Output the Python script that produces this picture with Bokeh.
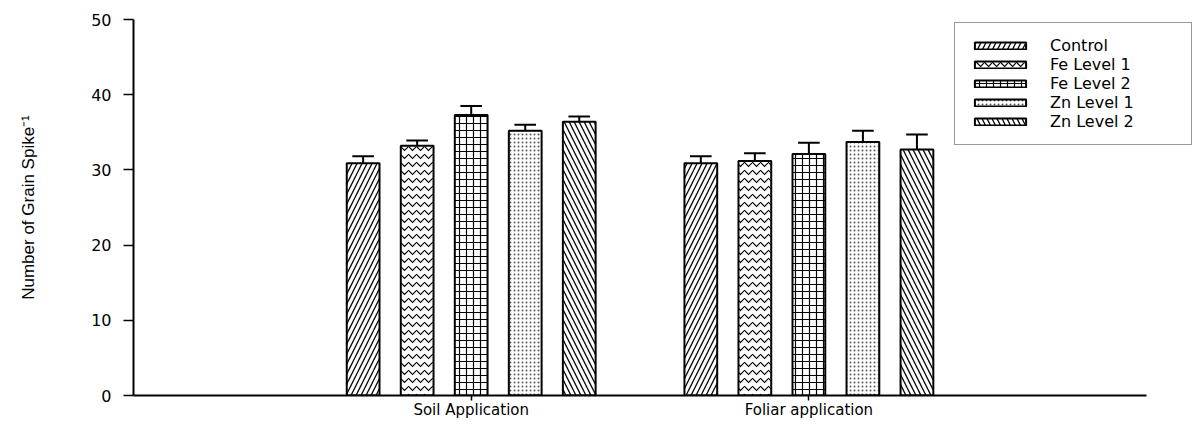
from bokeh.plotting import figure
from bokeh.models import Range1d, FixedTicker, Legend, LegendItem, ColumnDataSource
from bokeh.embed import file_html
from bokeh.resources import INLINE

# ---- data ----
groups = ["Soil Application", "Foliar application"]
treatments = ["Control", "Fe Level 1", "Fe Level 2", "Zn Level 1", "Zn Level 2"]
soil_values = [30.9, 33.2, 37.3, 35.2, 36.4]
soil_errors = [0.9, 0.7, 1.2, 0.8, 0.7]
foliar_values = [30.9, 31.2, 32.1, 33.7, 32.7]
foliar_errors = [0.9, 1.0, 1.5, 1.5, 2.0]
y_ticks = [0, 10, 20, 30, 40, 50]

# ---- styling ----
patterns = ["right_diagonal_line", "horizontal_wave", "cross", "dot", "left_diagonal_line"]
scales = [10, 8, 7, 4, 10]
weights = [1.3, 1.2, 1.2, 1.0, 1.3]
hatch_colors = ["black", "black", "black", "#555555", "black"]
offsets = [-0.32, -0.16, 0.0, 0.16, 0.32]
bar_w = 0.097
cap_half = 0.032
FONT = "DejaVu Sans"

p = figure(width=1192, height=421, x_range=Range1d(0, 3.136), y_range=Range1d(0, 50),
           output_backend="svg", toolbar_location=None,
           min_border_left=133, min_border_right=0, min_border_top=19, min_border_bottom=22)
p.outline_line_color = None
p.xgrid.visible = False
p.ygrid.visible = False
p.background_fill_color = "white"
p.border_fill_color = "white"

items = []
for i, t in enumerate(treatments):
    xs = [g + 1 + offsets[i] for g in range(len(groups))]
    vals = [soil_values[i], foliar_values[i]]
    errs = [soil_errors[i], foliar_errors[i]]
    tops = [v + e for v, e in zip(vals, errs)]
    src = ColumnDataSource(dict(x=xs, top=vals, up=tops,
                                x0=[x - cap_half for x in xs], x1=[x + cap_half for x in xs]))
    # error bars (upper only)
    p.segment(x0="x", y0="top", x1="x", y1="up", source=src, line_color="black", line_width=2)
    p.segment(x0="x0", y0="up", x1="x1", y1="up", source=src, line_color="black", line_width=2)
    r = p.vbar(x="x", top="top", bottom=0, width=bar_w, source=src,
               fill_color="white", line_color="black", line_width=2,
               hatch_pattern=patterns[i], hatch_scale=scales[i], hatch_weight=weights[i],
               hatch_color=hatch_colors[i])
    items.append(LegendItem(label=t, renderers=[r]))

legend = Legend(items=items, location=(821, 250), margin=0, padding=13,
                glyph_width=64, glyph_height=9, label_height=18, label_width=128,
                label_standoff=18, spacing=0,
                label_text_font=FONT, label_text_font_size="16px",
                label_text_color="black",
                border_line_color="#333333", border_line_width=1,
                background_fill_color="white", background_fill_alpha=1.0)
p.add_layout(legend)

# axes
p.xaxis.bounds = (0, 3)
p.xaxis.ticker = FixedTicker(ticks=[1, 2])
p.xaxis.major_label_overrides = {1: groups[0], 2: groups[1]}
p.xaxis.major_tick_out = 5
p.xaxis.major_tick_in = 0
p.xaxis.minor_tick_line_color = None
p.xaxis.major_label_standoff = 0
p.xaxis.major_label_text_font = FONT
p.xaxis.major_label_text_font_size = "15px"
p.xaxis.major_label_text_color = "black"

p.yaxis.ticker = FixedTicker(ticks=y_ticks)
p.yaxis.major_tick_out = 10
p.yaxis.major_tick_in = 0
p.yaxis.minor_tick_line_color = None
p.yaxis.major_label_standoff = 12
p.yaxis.major_label_text_font = FONT
p.yaxis.major_label_text_font_size = "16px"
p.yaxis.major_label_text_color = "black"
p.yaxis.axis_label = "Number of Grain Spike\u207b\u00b9"
p.yaxis.axis_label_text_font = "Liberation Sans"
p.yaxis.axis_label_text_font_size = "17px"
p.yaxis.axis_label_text_font_style = "normal"
p.yaxis.axis_label_text_color = "black"
p.yaxis.axis_label_standoff = 50

for ax in (p.xaxis, p.yaxis):
    ax.axis_line_color = "black"
    ax.axis_line_width = 2
    ax.major_tick_line_color = "black"
    ax.major_tick_line_width = 1.5

open("out.html", "w").write(file_html(p, INLINE))
